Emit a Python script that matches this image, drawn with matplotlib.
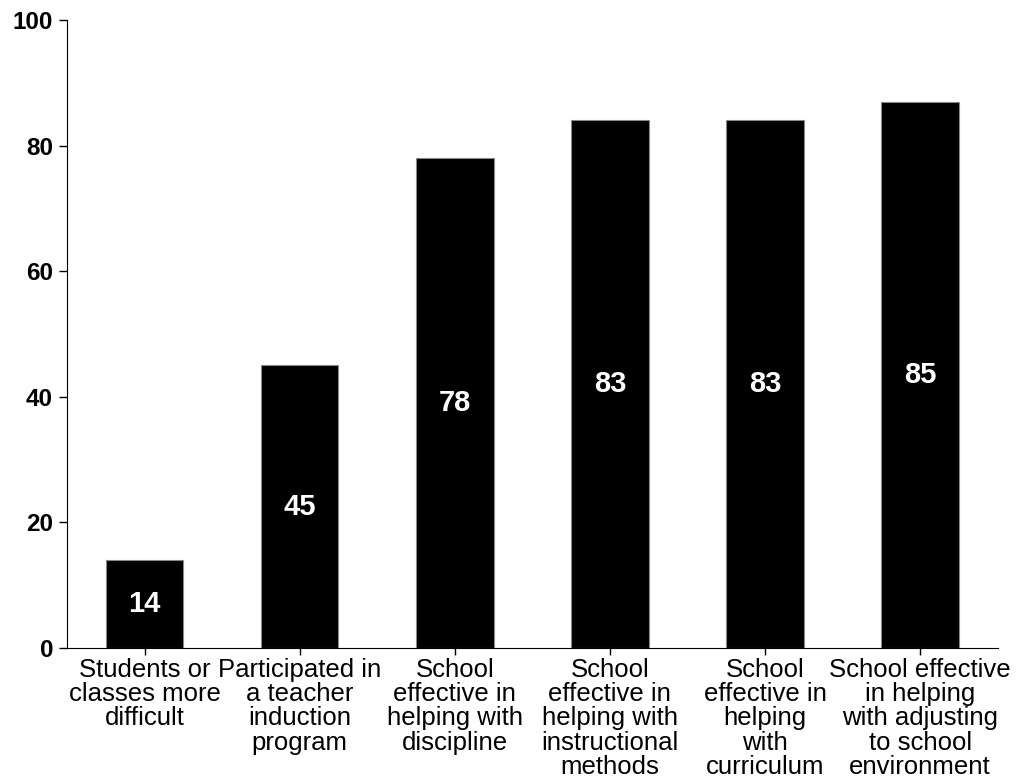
import numpy as np
import matplotlib.pyplot as plt

plt.rcParams['font.family'] = ['Liberation Sans', 'DejaVu Sans']

###-------------data-------------###
categories = ["Students or\nclasses more\ndifficult",
              "Participated in\na teacher\ninduction\nprogram",
              "School\neffective in\nhelping with\ndiscipline",
              "School\neffective in\nhelping with\ninstructional\nmethods",
              "School\neffective in\nhelping\nwith\ncurriculum",
              "School effective\nin helping\nwith adjusting\nto school\nenvironment"]
heights = [14, 45, 78, 84, 84, 87]
bar_labels = ["14", "45", "78", "83", "83", "85"]
yticks = [0, 20, 40, 60, 80, 100]

###-------------plot-------------###
fig = plt.figure(figsize=(10.18, 7.83), dpi=100)
ax = fig.add_axes([0.0658, 0.1724, 0.9142, 0.8021])

x = np.arange(len(categories))
ax.bar(x, heights, width=0.5, color='black', edgecolor='#888888', linewidth=0.8)

for xi, h, lab in zip(x, heights, bar_labels):
    ax.text(xi, h / 2, lab, color='white', fontsize=21, fontweight='bold',
            ha='center', va='center')

ax.set_xlim(-0.5, 5.5)
ax.set_ylim(0, 100)
ax.set_yticks(yticks)
ax.set_yticklabels([str(t) for t in yticks], fontsize=17.5, fontweight='bold')
ax.set_xticks(x)
ax.set_xticklabels(categories, fontsize=18.5, linespacing=1.02, va='top')

ax.spines['top'].set_visible(False)
ax.spines['right'].set_visible(False)
ax.tick_params(axis='y', length=6, width=1, pad=4)
ax.tick_params(axis='x', length=5, width=1, pad=2)

fig.savefig('out.png', dpi=100)
